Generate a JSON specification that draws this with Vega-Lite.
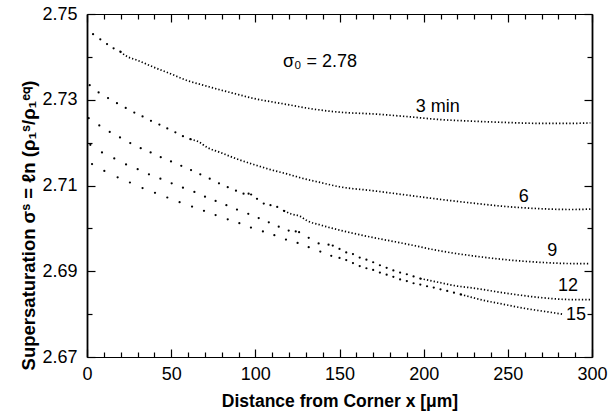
{
  "$schema": "https://vega.github.io/schema/vega-lite/v6.json",
  "width": 505,
  "height": 343,
  "autosize": "none",
  "padding": {"left": 87, "top": 14, "right": 17, "bottom": 61},
  "background": "white",
  "config": {"view": {"stroke": null}, "axis": {"grid": false, "domainColor": "black", "labelColor": "black", "titleColor": "black", "tickColor": "black", "labelFont": "Liberation Sans", "titleFont": "Liberation Sans"}},
  "datasets": {
    "sparseA": [
      {"c": "3", "x": 3.6, "y": 2.7453}, {"c": "3", "x": 7.9, "y": 2.7441}, {"c": "3", "x": 11.9, "y": 2.7430}, {"c": "3", "x": 15.8, "y": 2.7420}, {"c": "3", "x": 19.8, "y": 2.7412},
      {"c": "6", "x": 1.6, "y": 2.7334}, {"c": "6", "x": 6.9, "y": 2.7317}, {"c": "6", "x": 12.5, "y": 2.7304}, {"c": "6", "x": 17.8, "y": 2.7292}, {"c": "6", "x": 23, "y": 2.7281}, {"c": "6", "x": 28.1, "y": 2.7270}, {"c": "6", "x": 33, "y": 2.7261}, {"c": "6", "x": 38, "y": 2.7251}, {"c": "6", "x": 43, "y": 2.7242}, {"c": "6", "x": 47.7, "y": 2.7233}, {"c": "6", "x": 52.5, "y": 2.7224}, {"c": "6", "x": 57, "y": 2.7215}, {"c": "6", "x": 61.4, "y": 2.7208},
      {"c": "9", "x": 1, "y": 2.7257}, {"c": "9", "x": 7.3, "y": 2.7240}, {"c": "9", "x": 13.5, "y": 2.7225}, {"c": "9", "x": 19.6, "y": 2.7212}, {"c": "9", "x": 25.7, "y": 2.7199}, {"c": "9", "x": 31.9, "y": 2.7187}, {"c": "9", "x": 37.8, "y": 2.7177}, {"c": "9", "x": 43.8, "y": 2.7166}, {"c": "9", "x": 49.9, "y": 2.7156}, {"c": "9", "x": 56, "y": 2.7146}, {"c": "9", "x": 61.8, "y": 2.7136}, {"c": "9", "x": 67.3, "y": 2.7126}, {"c": "9", "x": 72.9, "y": 2.7116}, {"c": "9", "x": 78.4, "y": 2.7105}, {"c": "9", "x": 83.6, "y": 2.7096}, {"c": "9", "x": 88.5, "y": 2.7088}, {"c": "9", "x": 93, "y": 2.7081}, {"c": "9", "x": 96, "y": 2.7081}, {"c": "9", "x": 97.5, "y": 2.7079}, {"c": "9", "x": 101, "y": 2.7069}, {"c": "9", "x": 105, "y": 2.7058}, {"c": "9", "x": 109, "y": 2.7054}, {"c": "9", "x": 113, "y": 2.7050}, {"c": "9", "x": 117, "y": 2.7041}
    ],
    "sparseB": [
      {"c": "12", "x": 2, "y": 2.7195}, {"c": "12", "x": 8.9, "y": 2.7177}, {"c": "12", "x": 16.2, "y": 2.7163}, {"c": "12", "x": 23.2, "y": 2.7149}, {"c": "12", "x": 30.1, "y": 2.7138}, {"c": "12", "x": 36.8, "y": 2.7126}, {"c": "12", "x": 43.6, "y": 2.7116}, {"c": "12", "x": 50.3, "y": 2.7105}, {"c": "12", "x": 57, "y": 2.7095}, {"c": "12", "x": 63.8, "y": 2.7085}, {"c": "12", "x": 70.1, "y": 2.7074}, {"c": "12", "x": 76.4, "y": 2.7064}, {"c": "12", "x": 82.8, "y": 2.7054}, {"c": "12", "x": 89.1, "y": 2.7044}, {"c": "12", "x": 95.8, "y": 2.7034}, {"c": "12", "x": 102, "y": 2.7024}, {"c": "12", "x": 108, "y": 2.7014}, {"c": "12", "x": 113.9, "y": 2.7004}, {"c": "12", "x": 119.8, "y": 2.6995}, {"c": "12", "x": 124, "y": 2.6993}, {"c": "12", "x": 126, "y": 2.6991}, {"c": "12", "x": 131.7, "y": 2.6978}, {"c": "12", "x": 137.6, "y": 2.6965}, {"c": "12", "x": 143.5, "y": 2.6962}, {"c": "12", "x": 146, "y": 2.6960}, {"c": "12", "x": 150, "y": 2.6952}, {"c": "12", "x": 154, "y": 2.6944}, {"c": "12", "x": 158, "y": 2.6940}, {"c": "12", "x": 162, "y": 2.6932}, {"c": "12", "x": 166, "y": 2.6927}, {"c": "12", "x": 170, "y": 2.6921}, {"c": "12", "x": 174, "y": 2.6914}, {"c": "12", "x": 178, "y": 2.6908}, {"c": "12", "x": 182, "y": 2.6902}, {"c": "12", "x": 186, "y": 2.6897}, {"c": "12", "x": 190, "y": 2.6893}, {"c": "12", "x": 194, "y": 2.6888}, {"c": "12", "x": 198, "y": 2.6883},
      {"c": "15", "x": 3, "y": 2.7150}, {"c": "15", "x": 10.3, "y": 2.7134}, {"c": "15", "x": 18.2, "y": 2.7119}, {"c": "15", "x": 25.5, "y": 2.7107}, {"c": "15", "x": 33, "y": 2.7094}, {"c": "15", "x": 40.4, "y": 2.7083}, {"c": "15", "x": 47.7, "y": 2.7072}, {"c": "15", "x": 55, "y": 2.7061}, {"c": "15", "x": 62.4, "y": 2.7051}, {"c": "15", "x": 69.5, "y": 2.7041}, {"c": "15", "x": 76.4, "y": 2.7031}, {"c": "15", "x": 83.6, "y": 2.7021}, {"c": "15", "x": 90.5, "y": 2.7012}, {"c": "15", "x": 97.4, "y": 2.7002}, {"c": "15", "x": 104.5, "y": 2.6993}, {"c": "15", "x": 111.3, "y": 2.6984}, {"c": "15", "x": 118.2, "y": 2.6974}, {"c": "15", "x": 125.1, "y": 2.6966}, {"c": "15", "x": 131.7, "y": 2.6956}, {"c": "15", "x": 138.6, "y": 2.6946}, {"c": "15", "x": 145.1, "y": 2.6936}, {"c": "15", "x": 150, "y": 2.6931}, {"c": "15", "x": 154, "y": 2.6926}, {"c": "15", "x": 158, "y": 2.6919}, {"c": "15", "x": 162, "y": 2.6912}, {"c": "15", "x": 166, "y": 2.6907}, {"c": "15", "x": 170, "y": 2.6903}, {"c": "15", "x": 174, "y": 2.6897}, {"c": "15", "x": 178, "y": 2.6892}, {"c": "15", "x": 182, "y": 2.6887}, {"c": "15", "x": 186, "y": 2.6881}, {"c": "15", "x": 190, "y": 2.6877}, {"c": "15", "x": 194, "y": 2.6872}, {"c": "15", "x": 198, "y": 2.6869}, {"c": "15", "x": 202, "y": 2.6865}, {"c": "15", "x": 206, "y": 2.6862}, {"c": "15", "x": 210, "y": 2.6858}, {"c": "15", "x": 214, "y": 2.6854}, {"c": "15", "x": 218, "y": 2.6850}, {"c": "15", "x": 222, "y": 2.6846}
    ],
    "dense": [
      {"c": "3", "x": 19.8, "y": 2.7412}, {"c": "3", "x": 23.8, "y": 2.7401}, {"c": "3", "x": 30, "y": 2.7392}, {"c": "3", "x": 39.6, "y": 2.7376}, {"c": "3", "x": 50, "y": 2.7360}, {"c": "3", "x": 59.4, "y": 2.7345}, {"c": "3", "x": 70, "y": 2.7333}, {"c": "3", "x": 79.2, "y": 2.7323}, {"c": "3", "x": 90, "y": 2.7312}, {"c": "3", "x": 99, "y": 2.7303}, {"c": "3", "x": 110, "y": 2.7295}, {"c": "3", "x": 118.8, "y": 2.7289}, {"c": "3", "x": 130, "y": 2.7281}, {"c": "3", "x": 138.6, "y": 2.7276}, {"c": "3", "x": 150, "y": 2.7271}, {"c": "3", "x": 169.5, "y": 2.7267}, {"c": "3", "x": 189.3, "y": 2.7261}, {"c": "3", "x": 209, "y": 2.7254}, {"c": "3", "x": 229, "y": 2.7250}, {"c": "3", "x": 248.7, "y": 2.7247}, {"c": "3", "x": 268.5, "y": 2.7245}, {"c": "3", "x": 288, "y": 2.7245}, {"c": "3", "x": 299, "y": 2.7246},
      {"c": "6", "x": 61.4, "y": 2.7208}, {"c": "6", "x": 66.3, "y": 2.7202}, {"c": "6", "x": 71.3, "y": 2.7189}, {"c": "6", "x": 79.2, "y": 2.7177}, {"c": "6", "x": 89, "y": 2.7162}, {"c": "6", "x": 99, "y": 2.7149}, {"c": "6", "x": 109, "y": 2.7137}, {"c": "6", "x": 118.8, "y": 2.7127}, {"c": "6", "x": 128.7, "y": 2.7116}, {"c": "6", "x": 138.6, "y": 2.7107}, {"c": "6", "x": 150, "y": 2.7097}, {"c": "6", "x": 169.5, "y": 2.7088}, {"c": "6", "x": 189.3, "y": 2.7078}, {"c": "6", "x": 209, "y": 2.7068}, {"c": "6", "x": 229, "y": 2.7059}, {"c": "6", "x": 248.7, "y": 2.7051}, {"c": "6", "x": 268.5, "y": 2.7046}, {"c": "6", "x": 288.3, "y": 2.7044}, {"c": "6", "x": 299, "y": 2.7045},
      {"c": "9", "x": 117, "y": 2.7041}, {"c": "9", "x": 121, "y": 2.7034}, {"c": "9", "x": 126.7, "y": 2.7028}, {"c": "9", "x": 130.7, "y": 2.7018}, {"c": "9", "x": 138.6, "y": 2.7008}, {"c": "9", "x": 150, "y": 2.6996}, {"c": "9", "x": 169.5, "y": 2.6979}, {"c": "9", "x": 189.3, "y": 2.6964}, {"c": "9", "x": 209, "y": 2.6948}, {"c": "9", "x": 229, "y": 2.6936}, {"c": "9", "x": 248.7, "y": 2.6927}, {"c": "9", "x": 268.5, "y": 2.6921}, {"c": "9", "x": 288.3, "y": 2.6918}, {"c": "9", "x": 299, "y": 2.6918},
      {"c": "12", "x": 198, "y": 2.6883}, {"c": "12", "x": 209, "y": 2.6874}, {"c": "12", "x": 219, "y": 2.6866}, {"c": "12", "x": 229, "y": 2.6861}, {"c": "12", "x": 248.7, "y": 2.6849}, {"c": "12", "x": 268.5, "y": 2.6839}, {"c": "12", "x": 288.3, "y": 2.6834}, {"c": "12", "x": 299, "y": 2.6834},
      {"c": "15", "x": 222, "y": 2.6846}, {"c": "15", "x": 234.8, "y": 2.6833}, {"c": "15", "x": 248.7, "y": 2.6822}, {"c": "15", "x": 260.6, "y": 2.6813}, {"c": "15", "x": 272.5, "y": 2.6806}, {"c": "15", "x": 282.4, "y": 2.6800}
    ],
    "labelsA": [
      {"t": "3 min", "x": 208.3, "y": 2.7284},
      {"t": "6", "x": 259.4, "y": 2.7073},
      {"t": "9", "x": 276.4, "y": 2.6948}
    ],
    "labelsB": [
      {"t": "12", "x": 285.7, "y": 2.6866},
      {"t": "15", "x": 290.5, "y": 2.6798}
    ],
    "sigma": [
      {"t": "σ₀ = 2.78", "x": 138.4, "y": 2.7388}
    ]
  },
  "resolve": {"axis": {"x": "independent", "y": "independent"}},
  "layer": [
    {
      "data": {"name": "sparseA"},
      "mark": {"type": "point", "filled": true, "shape": "circle", "size": 5, "color": "black", "opacity": 1},
      "encoding": {
        "x": {"field": "x", "type": "quantitative", "scale": {"domain": [0, 300], "nice": false, "zero": false},
          "axis": {"orient": "bottom", "values": [0, 50, 100, 150, 200, 250, 300], "ticks": false, "labelPadding": 8, "labelFontSize": 18, "domainWidth": 1.2, "title": "Distance from Corner x [μm]", "titleFontSize": 17.5, "titleFontWeight": "bold", "titleY": 35, "titleBaseline": "top", "labelFlush": false}},
        "y": {"field": "y", "type": "quantitative", "scale": {"domain": [2.67, 2.75], "nice": false, "zero": false},
          "axis": {"orient": "left", "values": [2.67, 2.69, 2.71, 2.73, 2.75], "format": ".2f", "ticks": false, "labelPadding": 10, "labelFontSize": 18, "domainWidth": 1.8, "title": "Supersaturation σˢ = ℓn (ρ₁ˢ/ρ₁ᵉ𐞥)", "titleFontSize": 18.5, "titleFontWeight": "bold", "titleX": -49, "titleY": 211, "titleAngle": -90, "titleBaseline": "bottom", "labelFlush": false}}
      }
    },
    {
      "data": {"name": "sparseB"},
      "mark": {"type": "point", "filled": true, "shape": "circle", "size": 5, "color": "black", "opacity": 1},
      "encoding": {
        "x": {"field": "x", "type": "quantitative", "scale": {"domain": [0, 300], "nice": false, "zero": false},
          "axis": {"orient": "top", "ticks": false, "labels": false, "domainWidth": 1.2, "title": null}},
        "y": {"field": "y", "type": "quantitative", "scale": {"domain": [2.67, 2.75], "nice": false, "zero": false},
          "axis": {"orient": "right", "ticks": false, "labels": false, "domainWidth": 1.8, "title": null}}
      }
    },
    {
      "data": {"name": "dense"},
      "mark": {"type": "line", "color": "black", "strokeWidth": 1.7, "strokeDash": [1.3, 2.1], "interpolate": "monotone"},
      "encoding": {
        "x": {"field": "x", "type": "quantitative", "scale": {"domain": [0, 300], "nice": false, "zero": false},
          "axis": {"orient": "bottom", "values": [0, 50, 100, 150, 200, 250, 300], "ticks": true, "tickSize": -8, "tickWidth": 1.2, "tickColor": "black", "labels": false, "domain": false, "title": null}},
        "y": {"field": "y", "type": "quantitative", "scale": {"domain": [2.67, 2.75], "nice": false, "zero": false},
          "axis": {"orient": "left", "values": [2.67, 2.69, 2.71, 2.73, 2.75], "ticks": true, "tickSize": -8, "tickWidth": 1.2, "tickColor": "black", "labels": false, "domain": false, "title": null}},
        "detail": {"field": "c"}
      }
    },
    {
      "data": {"name": "labelsA"},
      "mark": {"type": "text", "font": "Liberation Sans", "fontSize": 18, "color": "black", "align": "center", "baseline": "middle"},
      "encoding": {
        "x": {"field": "x", "type": "quantitative", "scale": {"domain": [0, 300], "nice": false, "zero": false},
          "axis": {"orient": "top", "values": [0, 50, 100, 150, 200, 250, 300], "ticks": true, "tickSize": -8, "tickWidth": 1.2, "tickColor": "black", "labels": false, "domain": false, "title": null}},
        "y": {"field": "y", "type": "quantitative", "scale": {"domain": [2.67, 2.75], "nice": false, "zero": false},
          "axis": {"orient": "right", "values": [2.67, 2.69, 2.71, 2.73, 2.75], "ticks": true, "tickSize": -8, "tickWidth": 1.2, "tickColor": "black", "labels": false, "domain": false, "title": null}},
        "text": {"field": "t"}
      }
    },
    {
      "data": {"name": "labelsB"},
      "mark": {"type": "text", "font": "Liberation Sans", "fontSize": 18, "color": "black", "align": "center", "baseline": "middle"},
      "encoding": {
        "x": {"field": "x", "type": "quantitative", "scale": {"domain": [0, 300], "nice": false, "zero": false},
          "axis": {"orient": "bottom", "values": [10, 20, 30, 40, 60, 70, 80, 90, 110, 120, 130, 140, 160, 170, 180, 190, 210, 220, 230, 240, 260, 270, 280, 290], "ticks": true, "tickSize": -5, "tickWidth": 1.2, "tickColor": "black", "labels": false, "domain": false, "title": null}},
        "y": {"field": "y", "type": "quantitative", "scale": {"domain": [2.67, 2.75], "nice": false, "zero": false},
          "axis": {"orient": "left", "values": [2.68, 2.70, 2.72, 2.74], "ticks": true, "tickSize": -5, "tickWidth": 1.2, "tickColor": "black", "labels": false, "domain": false, "title": null}},
        "text": {"field": "t"}
      }
    },
    {
      "data": {"name": "sigma"},
      "mark": {"type": "text", "font": "Liberation Sans", "fontSize": 18, "color": "black", "align": "center", "baseline": "middle"},
      "encoding": {
        "x": {"field": "x", "type": "quantitative", "scale": {"domain": [0, 300], "nice": false, "zero": false},
          "axis": {"orient": "top", "values": [10, 20, 30, 40, 60, 70, 80, 90, 110, 120, 130, 140, 160, 170, 180, 190, 210, 220, 230, 240, 260, 270, 280, 290], "ticks": true, "tickSize": -5, "tickWidth": 1.2, "tickColor": "black", "labels": false, "domain": false, "title": null}},
        "y": {"field": "y", "type": "quantitative", "scale": {"domain": [2.67, 2.75], "nice": false, "zero": false},
          "axis": {"orient": "right", "values": [2.68, 2.70, 2.72, 2.74], "ticks": true, "tickSize": -5, "tickWidth": 1.2, "tickColor": "black", "labels": false, "domain": false, "title": null}},
        "text": {"field": "t"}
      }
    }
  ]
}
